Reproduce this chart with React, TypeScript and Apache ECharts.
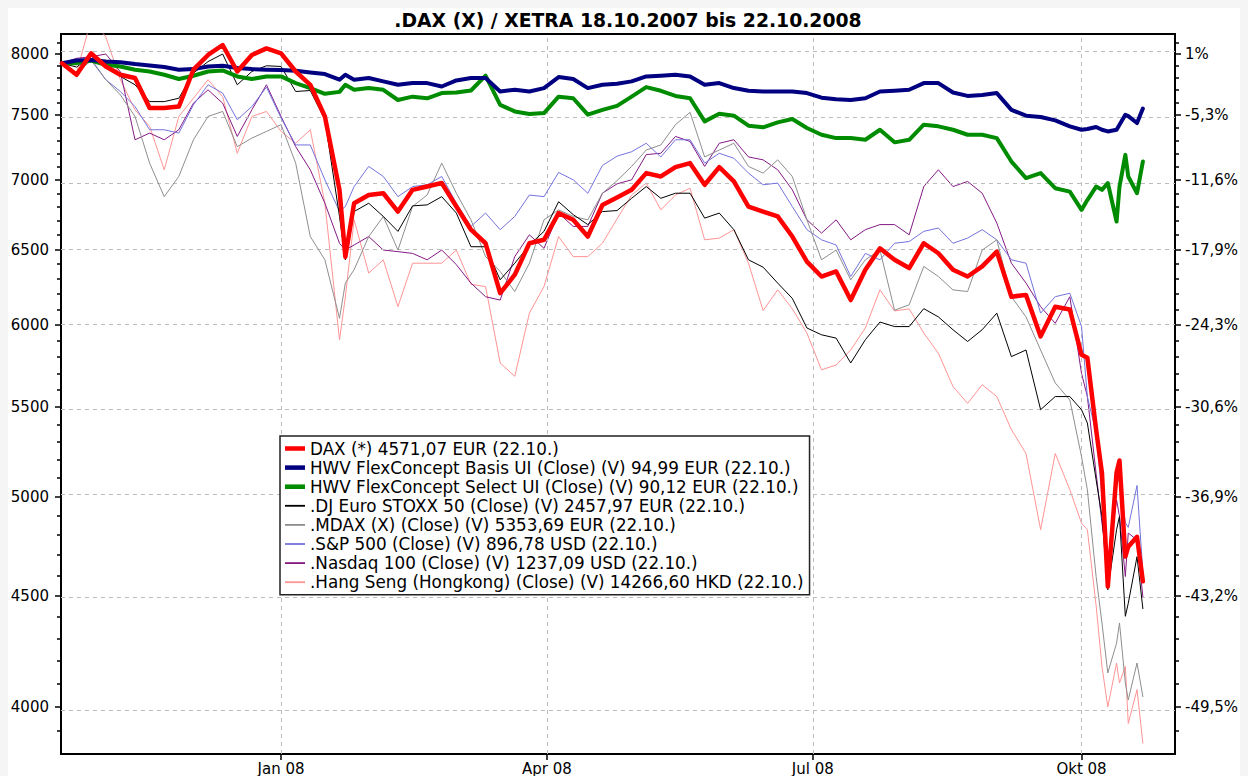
import React, { useEffect, useRef } from "react";
import * as echarts from "echarts";

const FONT = "DejaVu Sans";

const dates = [
  "2007-10-18","2007-10-23","2007-10-28","2007-11-02","2007-11-07","2007-11-12","2007-11-17","2007-11-22","2007-11-27","2007-12-02",
  "2007-12-07","2007-12-12","2007-12-17","2007-12-22","2007-12-27","2008-01-01","2008-01-06","2008-01-11","2008-01-16","2008-01-21",
  "2008-01-23","2008-01-26","2008-01-31","2008-02-05","2008-02-10","2008-02-15","2008-02-20","2008-02-25","2008-03-01","2008-03-06",
  "2008-03-11","2008-03-16","2008-03-21","2008-03-26","2008-03-31","2008-04-05","2008-04-10","2008-04-15","2008-04-20","2008-04-25",
  "2008-04-30","2008-05-05","2008-05-10","2008-05-15","2008-05-20","2008-05-25","2008-05-30","2008-06-04","2008-06-09","2008-06-14",
  "2008-06-19","2008-06-24","2008-06-29","2008-07-04","2008-07-09","2008-07-14","2008-07-19","2008-07-24","2008-07-29","2008-08-03",
  "2008-08-08","2008-08-13","2008-08-18","2008-08-23","2008-08-28","2008-09-02","2008-09-07","2008-09-12","2008-09-17","2008-09-22",
  "2008-09-27","2008-10-01","2008-10-03","2008-10-06","2008-10-08","2008-10-10","2008-10-13","2008-10-14","2008-10-16","2008-10-17",
  "2008-10-20","2008-10-22"
];

const dax = [
  7922, 7826, 8006, 7895, 7826, 7799, 7554, 7554, 7566, 7868, 7992, 8077, 7853, 7992, 8048, 8006, 7853, 7743, 7487, 6925,
  6450, 6828, 6888, 6901, 6768, 6926, 6950, 6976, 6804, 6639, 6544, 6206, 6329, 6544, 6568, 6757, 6709, 6591, 6815, 6870,
  6926, 7050, 7025, 7095, 7125, 6963, 7095, 6988, 6804, 6768, 6733, 6591, 6418, 6317, 6351, 6161, 6363, 6509, 6430, 6374,
  6544, 6475, 6363, 6317, 6385, 6486, 6183, 6195, 5928, 6118, 6100, 5813, 5795, 5369, 5128, 4545, 5130, 5196, 4692, 4742,
  4792, 4571
];

const hwvBasis = [
  7922, 7945, 7950, 7936, 7931, 7915, 7903, 7890, 7868, 7873, 7895, 7901, 7882, 7873, 7868, 7865, 7859, 7845, 7832, 7785,
  7826, 7785, 7799, 7771, 7743, 7757, 7757, 7729, 7779, 7799, 7799, 7688, 7702, 7688, 7716, 7807, 7791, 7716, 7743, 7751,
  7771, 7812, 7818, 7826, 7812, 7743, 7757, 7716, 7694, 7688, 7688, 7688, 7675, 7638, 7625, 7619, 7633, 7688, 7694, 7702,
  7757, 7757, 7680, 7652, 7660, 7675, 7540, 7493, 7483, 7456, 7409, 7382, 7388, 7404, 7382, 7369, 7382, 7421, 7500, 7490,
  7435, 7550
];

const hwvSelect = [
  7922, 7923, 7945, 7909, 7895, 7868, 7853, 7826, 7791, 7818, 7853, 7862, 7812, 7791, 7812, 7812, 7757, 7716, 7669, 7685,
  7743, 7702, 7716, 7702, 7619, 7646, 7633, 7675, 7680, 7696, 7818, 7580, 7527, 7506, 7514, 7646, 7633, 7501, 7540, 7572,
  7646, 7724, 7694, 7652, 7633, 7448, 7509, 7493, 7414, 7401, 7440, 7467, 7396, 7343, 7317, 7317, 7304, 7382, 7284, 7304,
  7422, 7409, 7382, 7343, 7343, 7317, 7137, 7013, 7050, 6938, 6913, 6780, 6851, 6950, 6926, 6976, 6697, 6950, 7188, 7025,
  6901, 7137
];

const euroStoxx = [
  7922, 7890, 7983, 7882, 7812, 7743, 7606, 7606, 7633, 7840, 7936, 8000, 7743, 7853, 7901, 7895, 7688, 7696, 7461, 6733,
  6430, 6768, 6828, 6733, 6627, 6809, 6816, 6876, 6757, 6520, 6520, 6295, 6407, 6532, 6627, 6839, 6746, 6675, 6768, 6775,
  6864, 6950, 6864, 6901, 6901, 6721, 6757, 6639, 6430, 6380, 6273, 6172, 5981, 5938, 5917, 5763, 5907, 6019, 5990, 5990,
  6105, 6052, 5970, 5896, 5970, 6076, 5802, 5843, 5484, 5561, 5561, 5484, 5407, 5091, 4897, 4530, 4828, 4897, 4404, 4465,
  4692, 4440
];

const mdax = [
  7922, 7840, 7945, 7785, 7660, 7487, 7125, 6876, 7025, 7304, 7487, 7527, 7251, 7317, 7369, 7422, 7125, 6591, 6430, 6043,
  6273, 6363, 6591, 6733, 6497, 6804, 6888, 7125, 6901, 6709, 6452, 6351, 6217, 6407, 6709, 6780, 6733, 6709, 6901, 6994,
  7100, 7225, 7264, 7422, 7520, 7172, 7225, 7277, 7100, 7050, 7150, 7025, 6709, 6430, 6497, 6295, 6430, 6497, 6095, 6130,
  6385, 6317, 6228, 6217, 6497, 6568, 6183, 6052, 5843, 5642, 5541, 5218, 5037, 4594, 4373, 4147, 4280, 4373, 4103, 4030,
  4191, 4044
];

const sp500 = [
  7922, 7840, 7956, 7785, 7688, 7566, 7382, 7382, 7356, 7580, 7743, 7675, 7461, 7566, 7724, 7475, 7264, 7264, 7000, 6770,
  6804, 6950, 7100, 7025, 6876, 6950, 6963, 7025, 6828, 6662, 6757, 6639, 6733, 6888, 6876, 7055, 7000, 6901, 7107, 7178,
  7212, 7277, 7172, 7304, 7304, 7125, 7200, 7162, 7050, 6963, 6976, 6804, 6639, 6568, 6532, 6317, 6474, 6430, 6544, 6556,
  6627, 6651, 6544, 6580, 6639, 6568, 6430, 6407, 6076, 6183, 6206, 5990, 5560, 5350, 5000, 4650, 5100, 5080, 4864, 4840,
  5060, 4613
];

const nasdaq100 = [
  7922, 7964, 7977, 8000, 7850, 7304, 7356, 7304, 7382, 7593, 7702, 7593, 7330, 7540, 7743, 7487, 7251, 7075, 6828, 6544,
  6497, 6532, 6591, 6497, 6486, 6474, 6430, 6497, 6397, 6273, 6183, 6161, 6452, 6603, 6509, 6757, 6662, 6662, 6901, 6970,
  7000, 7190, 7200, 7330, 7291, 7100, 7277, 7304, 7172, 7150, 7075, 6926, 6709, 6615, 6709, 6568, 6639, 6675, 6675, 6603,
  6950, 7075, 6950, 6988, 6901, 6686, 6407, 6273, 6118, 6011, 6183, 5700, 5561, 5125, 4862, 4659, 4983, 4897, 4594, 4811,
  4776, 4497
];

const hangSeng = [
  7922, 7843, 8300, 8147, 7785, 7540, 7409, 7075, 7487, 7633, 7785, 7646, 7200, 7487, 7527, 7369, 7277, 7382, 6828, 5907,
  6181, 6709, 6340, 6430, 6118, 6407, 6407, 6407, 6497, 6265, 6250, 5763, 5682, 6076, 6250, 6591, 6452, 6452, 6544, 6715,
  6888, 6976, 6780, 6888, 6938, 6568, 6580, 6639, 6407, 6093, 6228, 6104, 5949, 5721, 5751, 5843, 5981, 6228, 6090, 6104,
  5949, 5823, 5621, 5521, 5631, 5561, 5369, 5235, 4828, 5235, 5037, 4862, 4828, 4455, 4176, 4000, 4191, 4103, 4176, 3930,
  4074, 3849
];

const leftTickValues = [8000, 7500, 7000, 6500, 6000, 5500, 5000, 4500, 4000];
const leftTickLabels = ["8000", "7500", "7000", "6500", "6000", "5500", "5000", "4500", "4000"];
const rightTickLabels = ["1%", "-5,3%", "-11,6%", "-17,9%", "-24,3%", "-30,6%", "-36,9%", "-43,2%", "-49,5%"];
const minorTickValues = [
  3900, 4100, 4200, 4300, 4400, 4600, 4700, 4800, 4900, 5100, 5200, 5300, 5400, 5600, 5700, 5800, 5900,
  6100, 6200, 6300, 6400, 6600, 6700, 6800, 6900, 7100, 7200, 7300, 7400, 7600, 7700, 7800, 7900, 8100
];
const xTickDates = ["2008-01-01", "2008-04-01", "2008-07-01", "2008-10-01"];
const xTickLabels = ["Jan 08", "Apr 08", "Jul 08", "Okt 08"];

const Y_MIN = 3805;
const Y_MAX = 8172;
const X_MIN = "2007-10-17T16:00:00Z";
const X_MAX = "2008-11-02T00:00:00Z";

const TITLE = ".DAX (X) / XETRA 18.10.2007 bis 22.10.2008";

const ICON_THICK = "path://M0,0M0,4.5L22,4.5L22,9.5L0,9.5ZM22,14";
const ICON_THIN = "path://M0,0M0,6L22,6L22,8L0,8ZM22,14";

type Def = { name: string; values: number[]; color: string; width: number; thick: boolean };

const defs: Def[] = [
  { name: "DAX (*) 4571,07 EUR (22.10.)", values: dax, color: "#ff0000", width: 4.5, thick: true },
  { name: "HWV FlexConcept Basis UI (Close) (V) 94,99 EUR (22.10.)", values: hwvBasis, color: "#000080", width: 4, thick: true },
  { name: "HWV FlexConcept Select UI (Close) (V) 90,12 EUR (22.10.)", values: hwvSelect, color: "#008c00", width: 4, thick: true },
  { name: ".DJ Euro STOXX 50 (Close) (V) 2457,97 EUR (22.10.)", values: euroStoxx, color: "#000000", width: 1, thick: false },
  { name: ".MDAX (X) (Close) (V) 5353,69 EUR (22.10.)", values: mdax, color: "#8e8e8e", width: 1, thick: false },
  { name: ".S&P 500 (Close) (V) 896,78 USD (22.10.)", values: sp500, color: "#7373dc", width: 1, thick: false },
  { name: ".Nasdaq 100 (Close) (V) 1237,09 USD (22.10.)", values: nasdaq100, color: "#851a85", width: 1, thick: false },
  { name: ".Hang Seng (Hongkong) (Close) (V) 14266,60 HKD (22.10.)", values: hangSeng, color: "#ff9494", width: 1, thick: false },
];

const ts = (d: string) => Date.parse(d.length === 10 ? d + "T00:00:00Z" : d);

export default function App() {
  const ref = useRef<HTMLDivElement>(null);

  useEffect(() => {
    document.body.style.background = "#f5f5f5";
    if (!ref.current) return;
    const chart = echarts.init(ref.current, undefined, { renderer: "svg" });

    const lnTicks = leftTickValues.map((v) => Math.log(v));
    const lnMinor = minorTickValues.map((v) => Math.log(v));
    const xTicks = xTickDates.map(ts);
    const nearest = (arr: number[], labels: string[]) => (v: number) => {
      let best = 0;
      for (let i = 1; i < arr.length; i++) {
        if (Math.abs(arr[i] - v) < Math.abs(arr[best] - v)) best = i;
      }
      return labels[best];
    };
    const yMin = Math.log(Y_MIN);
    const yMax = Math.log(Y_MAX);
    const axisColor = "#000";
    const gridLine = { color: "#bcbcbc", type: [4, 4] as any, width: 1 };

    const majorY = (position: "left" | "right", labels: string[], margin: number) => ({
      type: "value",
      position,
      min: yMin,
      max: yMax,
      axisLine: { show: true, onZero: false, lineStyle: { color: axisColor, width: 2 } },
      axisTick: { show: true, inside: false, customValues: lnTicks, length: 6, lineStyle: { color: axisColor, width: 1.5 } },
      axisLabel: {
        show: true,
        customValues: lnTicks,
        formatter: nearest(lnTicks, labels),
        color: "#000",
        fontSize: 15,
        fontFamily: FONT,
        margin,
      },
      splitLine: { show: false },
    });
    const minorY = (position: "left" | "right") => ({
      type: "value",
      position,
      min: yMin,
      max: yMax,
      axisLine: { show: false },
      axisTick: { show: true, inside: false, customValues: lnMinor, length: 4, lineStyle: { color: axisColor, width: 1.5 } },
      axisLabel: { show: false },
      splitLine: { show: false },
    });

    const drawOrder = [7, 6, 5, 4, 3, 2, 1, 0];
    const lineSeries = drawOrder.map((i, n) => {
      const d = defs[i];
      return {
        name: d.name,
        type: "line",
        xAxisIndex: 0,
        yAxisIndex: 0,
        data: dates.map((dt, k) => [ts(dt), Math.log(d.values[k])]),
        showSymbol: false,
        symbol: "none",
        clip: true,
        z: 3 + n,
        lineStyle: { color: d.color, width: d.width, join: "round", cap: "round" },
        itemStyle: { color: d.color },
        emphasis: { disabled: true },
      };
    });

    const gridSeries = {
      type: "line",
      xAxisIndex: 0,
      yAxisIndex: 0,
      data: [],
      z: 1,
      silent: true,
      markLine: {
        silent: true,
        symbol: ["none", "none"],
        label: { show: false },
        lineStyle: gridLine,
        emphasis: { disabled: true },
        data: [...lnTicks.map((v) => ({ yAxis: v })), ...xTicks.map((t) => ({ xAxis: t }))],
      },
    };

    const option: any = {
      animation: false,
      backgroundColor: "#ffffff",
      title: {
        text: TITLE,
        left: "center",
        top: 3,
        padding: 0,
        textStyle: { fontSize: 18.8, fontWeight: "bold", fontFamily: FONT, color: "#000" },
      },
      grid: {
        left: 53,
        top: 26,
        right: 73,
        bottom: 22,
        show: true,
        borderColor: "#000",
        borderWidth: 2,
        backgroundColor: "transparent",
        containLabel: false,
        outerBoundsMode: "none",
      },
      legend: {
        orient: "vertical",
        left: 272,
        top: 428,
        itemWidth: 20,
        itemHeight: 14,
        itemGap: 2.1,
        padding: [4, 6, 4, 5],
        backgroundColor: "#ffffff",
        borderColor: "#222",
        borderWidth: 1.5,
        borderRadius: 0,
        selectedMode: false,
        textStyle: { fontSize: 16.8, fontFamily: FONT, color: "#000", lineHeight: 14 },
        itemStyle: { borderWidth: 0 },
        data: defs.map((d) => ({ name: d.name, icon: d.thick ? ICON_THICK : ICON_THIN })),
        z: 20,
      },
      xAxis: {
        type: "value",
        min: ts(X_MIN),
        max: ts(X_MAX),
        axisLine: { show: true, onZero: false, lineStyle: { color: axisColor, width: 2 } },
        axisTick: { show: true, inside: false, customValues: xTicks, length: 6, lineStyle: { color: axisColor, width: 1.5 } },
        axisLabel: {
          show: true,
          customValues: xTicks,
          formatter: nearest(xTicks, xTickLabels),
          color: "#000",
          fontSize: 15,
          fontFamily: FONT,
          margin: 7,
        },
        splitLine: { show: false },
      },
      yAxis: [majorY("left", leftTickLabels, 12), minorY("left"), majorY("right", rightTickLabels, 10), minorY("right")],
      series: [gridSeries, ...lineSeries],
    };

    chart.setOption(option);
    return () => chart.dispose();
  }, []);

  return <div ref={ref} style={{ width: 1240, height: 768, background: "#ffffff" }} />;
}
